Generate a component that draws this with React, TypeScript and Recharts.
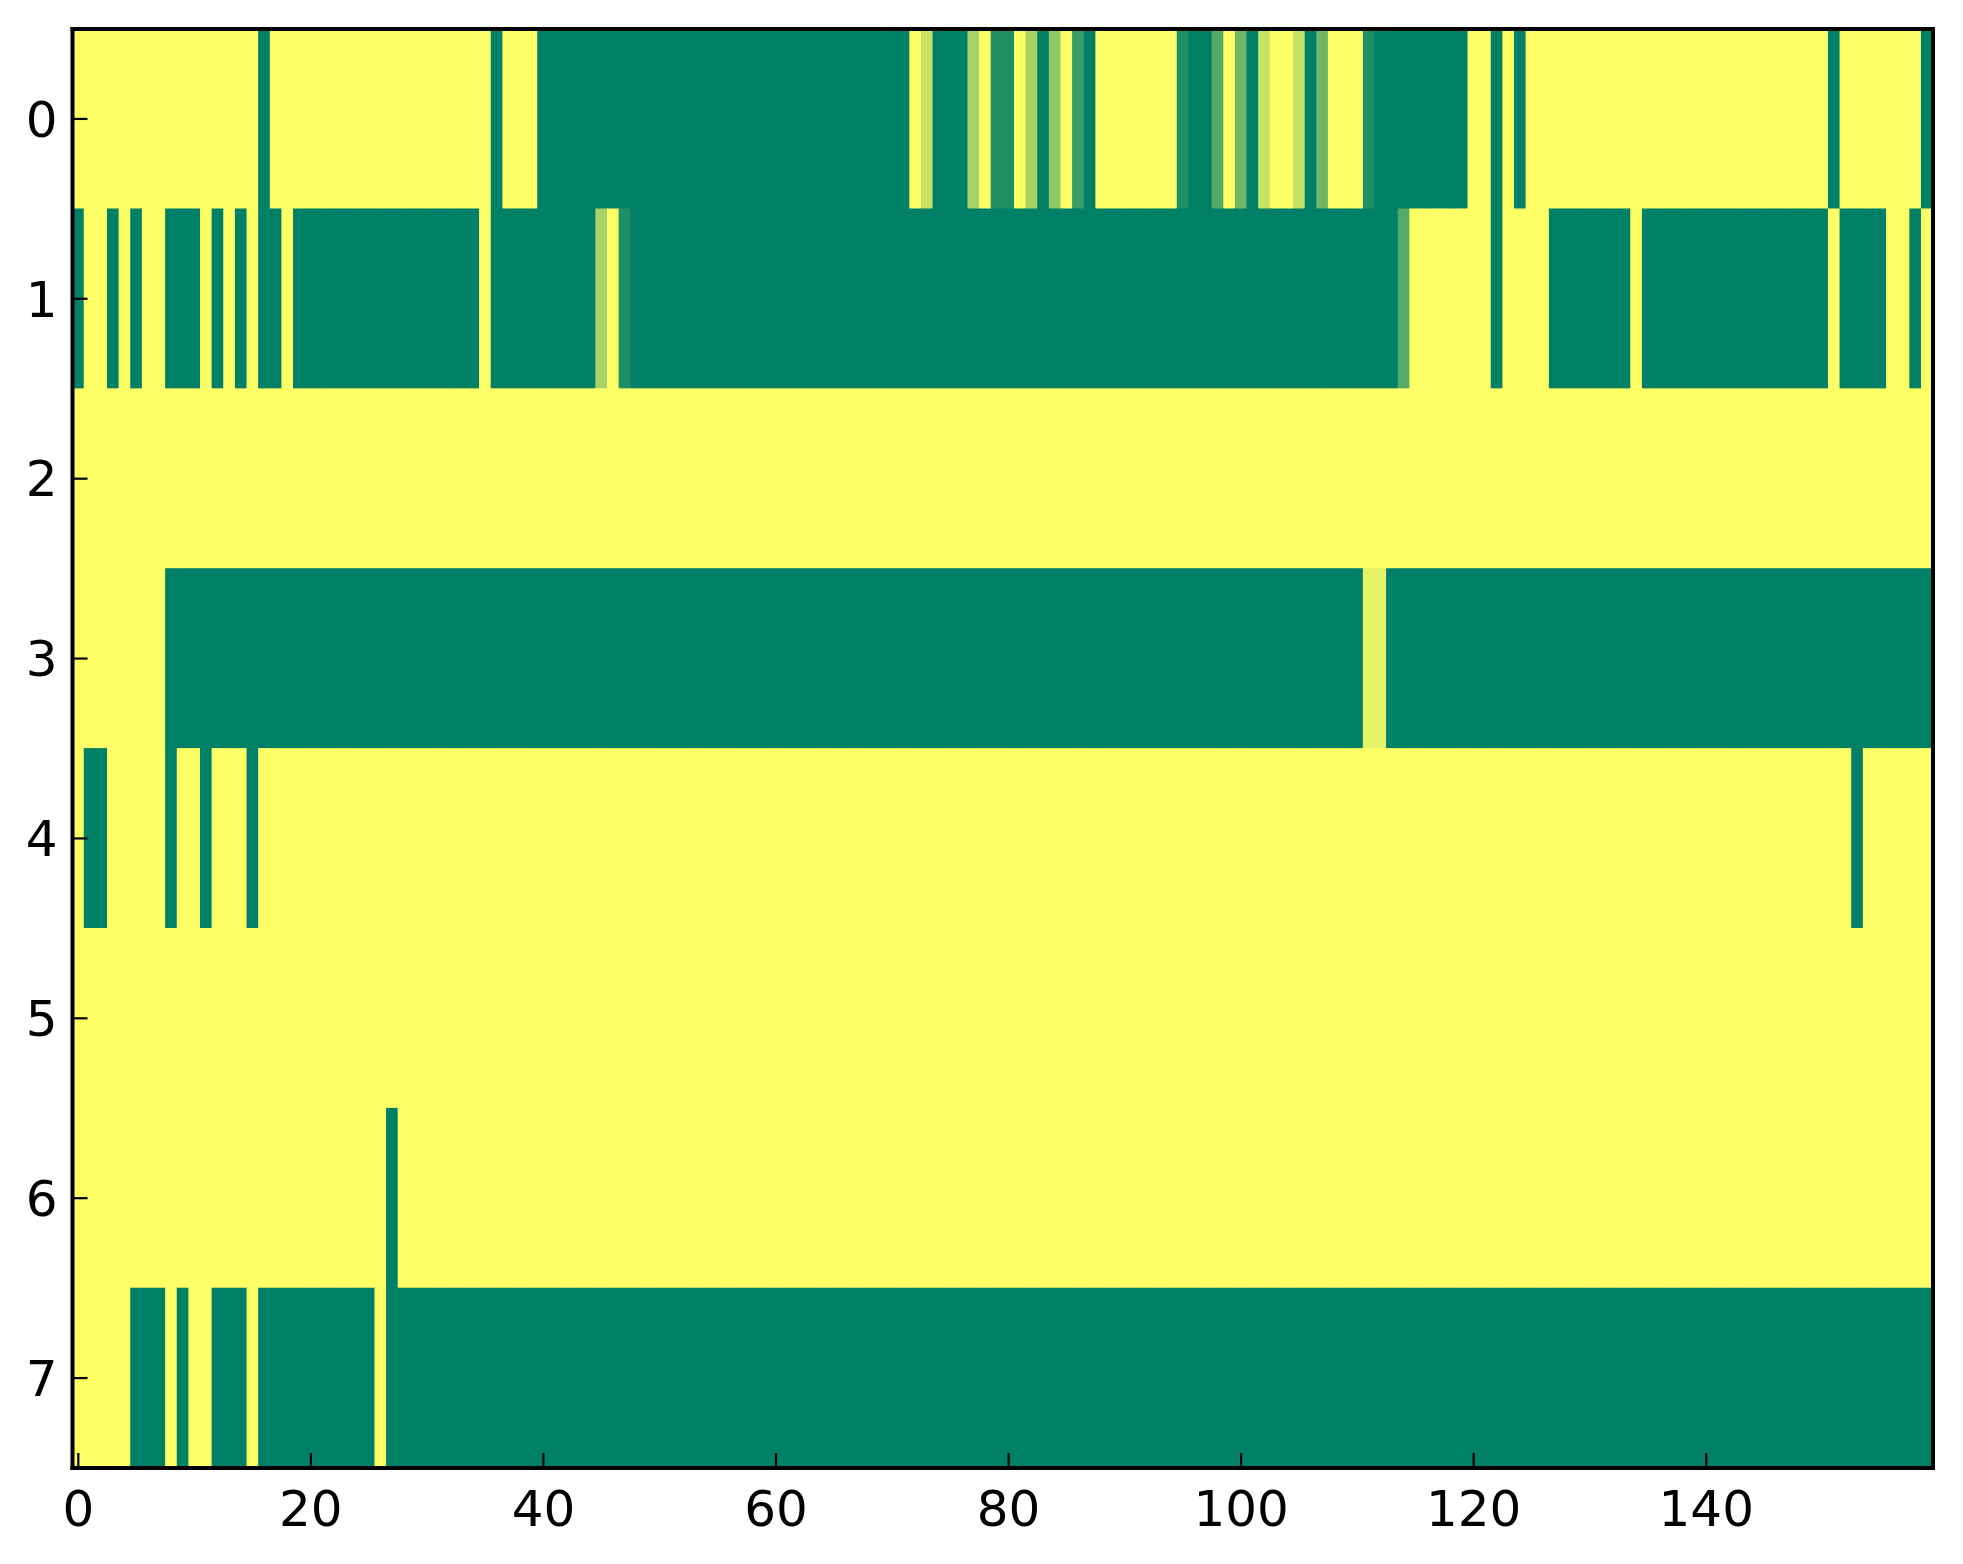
import { ScatterChart, Scatter, XAxis, YAxis } from "recharts";

// each row of the grid, read left to right as runs of [value, count]
const row0: [number, number][] = [
  [1, 16], [0, 1], [1, 19], [0, 1], [1, 3], [0, 32], [1, 1], [0.78, 1], [0, 3], [0.66, 1],
  [1, 1], [0.12, 2], [1, 1], [0.66, 1], [0, 1], [0.57, 1], [1, 1], [0.23, 1], [0, 1], [1, 7],
  [0.12, 1], [0, 2], [0.33, 1], [1, 1], [0.44, 1], [0, 1], [0.78, 1], [1, 2], [0.78, 1], [0, 1],
  [0.44, 1], [1, 3], [0.12, 1], [0, 8], [1, 2], [0, 1], [1, 1], [0, 1], [1, 26], [0, 1],
  [1, 7], [0, 1],
];
const row1: [number, number][] = [
  [0, 1], [1, 2], [0, 1], [1, 1], [0, 1], [1, 2], [0, 3], [1, 1], [0, 1], [1, 1],
  [0, 1], [1, 1], [0, 2], [1, 1], [0, 16], [1, 1], [0, 9], [0.66, 1], [1, 1], [0.12, 1],
  [0, 66], [0.33, 1], [1, 7], [0, 1], [1, 4], [0, 7], [1, 1], [0, 16], [1, 1], [0, 4],
  [1, 2], [0, 1], [1, 1],
];
const row2: [number, number][] = [[1, 160]];
const row3: [number, number][] = [[1, 8], [0, 103], [0.9, 2], [0, 47]];
const row4: [number, number][] = [
  [1, 1], [0, 2], [1, 5], [0, 1], [1, 2], [0, 1], [1, 3], [0, 1], [1, 137], [0, 1], [1, 6],
];
const row5: [number, number][] = [[1, 160]];
const row6: [number, number][] = [[1, 27], [0, 1], [1, 132]];
const row7: [number, number][] = [
  [1, 5], [0, 3], [1, 1], [0, 1], [1, 2], [0, 3], [1, 1], [0, 10], [1, 1], [0, 133],
];

const rows = [row0, row1, row2, row3, row4, row5, row6, row7];
const xTicks = [0, 20, 40, 60, 80, 100, 120, 140];
const yTicks = [0, 1, 2, 3, 4, 5, 6, 7];
const NCOLS = 160;

const cells = rows.flatMap((runs, r) => {
  const out: { x: number; y: number; v: number }[] = [];
  runs.forEach(([v, n]) => {
    for (let k = 0; k < n; k++) out.push({ x: out.length, y: r, v });
  });
  return out;
});

const W = 1963;
const H = 1564;
const LEFT = 72.5;
const RIGHT = 30;
const TOP = 29;
const BOTTOM = 96;
const CELL_W = (W - LEFT - RIGHT) / NCOLS;
const CELL_H = (H - TOP - BOTTOM) / rows.length;

// matplotlib "summer"
function summer(v: number) {
  const r = Math.round(255 * v);
  const g = Math.round(255 * (0.5 + 0.5 * v));
  return `rgb(${r},${g},102)`;
}

function Cell(props: any) {
  const { cx, cy, payload } = props;
  return (
    <rect
      x={cx - CELL_W / 2 - 0.4}
      y={cy - CELL_H / 2 - 0.4}
      width={CELL_W + 0.8}
      height={CELL_H + 0.8}
      fill={summer(payload.v)}
    />
  );
}

const font = { fontSize: 50, fill: "#000", fontFamily: "DejaVu Sans" };
const spine = { stroke: "#000", strokeWidth: 4, strokeLinecap: "square" as const };
const tickLine = { stroke: "#000", strokeWidth: 2.2 };

export default function App() {
  return (
    <div style={{ position: "absolute", left: 0, top: 0, width: W, height: H, background: "#fff" }}>
      <ScatterChart width={W} height={H} margin={{ top: TOP - 1, right: RIGHT - 1, bottom: 0, left: 0.5 }}>
        <Scatter data={cells} dataKey="y" shape={<Cell />} isAnimationActive={false} zIndex={0} />
        <XAxis
          dataKey="x" type="number" domain={[-0.5, 159.5]} allowDataOverflow ticks={xTicks} zIndex={1000}
          height={BOTTOM} axisLine={spine} tickLine={tickLine} tickSize={-15} tickMargin={37} tick={font}
        />
        <YAxis
          dataKey="y" type="number" domain={[-0.5, 7.5]} allowDataOverflow reversed ticks={yTicks} zIndex={1000}
          width={72} axisLine={spine} tickLine={tickLine} tickSize={-15} tickMargin={30} tick={font}
        />
        <XAxis
          xAxisId="top" orientation="top" type="number" domain={[-0.5, 159.5]} allowDataOverflow ticks={xTicks}
          zIndex={1000} height={1} axisLine={spine} tickLine={tickLine} tickSize={-15} tick={false}
        />
        <YAxis
          yAxisId="right" orientation="right" type="number" domain={[-0.5, 7.5]} allowDataOverflow reversed
          ticks={yTicks} zIndex={1000} width={1} axisLine={spine} tickLine={tickLine} tickSize={-15} tick={false}
        />
      </ScatterChart>
    </div>
  );
}
